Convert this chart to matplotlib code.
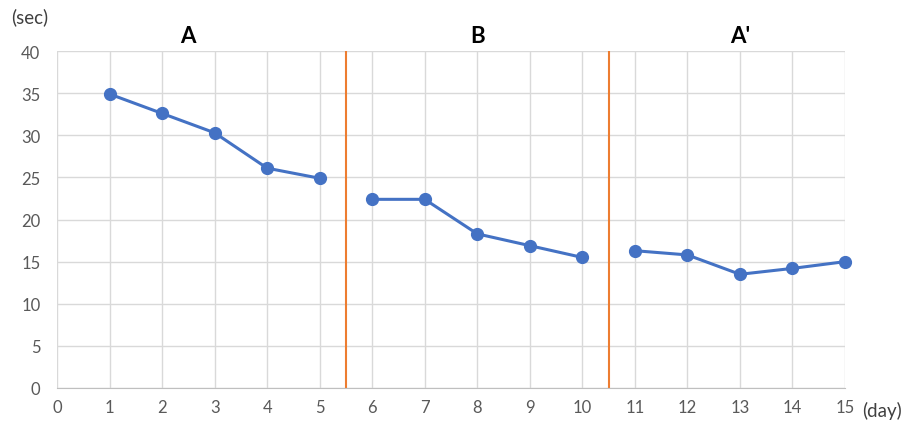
import matplotlib
matplotlib.use("Agg")
import matplotlib.pyplot as plt
import numpy as np

days = list(range(1, 16))
times = [34.9, 32.6, 30.3, 26.1, 24.9, 22.4, 22.4, 18.3, 16.9, 15.5, 16.3, 15.8, 13.5, 14.2, 15.0]
phases = ["A", "B", "A'"]
phase_bounds = [(1, 5), (6, 10), (11, 15)]
phase_label_x = [2.5, 8.0, 13.0]
phase_dividers = [5.5, 10.5]
yticks = [0, 5, 10, 15, 20, 25, 30, 35, 40]
xticks = list(range(0, 16))

plt.rcParams['font.family'] = ['Lato', 'DejaVu Sans']

fig = plt.figure(figsize=(9.08, 4.27), dpi=100)
ax = fig.add_axes([0.0628, 0.089, 0.8678, 0.789])

blue = '#4472C4'
for (s, e) in phase_bounds:
    xs = days[s - 1:e]
    ys = times[s - 1:e]
    ax.plot(xs, ys, color=blue, lw=2.2, marker='o', markersize=8.5, zorder=3, clip_on=False)

for d in phase_dividers:
    ax.axvline(d, color='#ED7D31', lw=1.5, zorder=2)

ax.set_xlim(0, 15)
ax.set_ylim(0, 40)
ax.set_xticks(xticks)
ax.set_yticks(yticks)
ax.grid(True, color='#d9d9d9', lw=1.0, zorder=0)
for side in ['top', 'right', 'left']:
    ax.spines[side].set_visible(False)
ax.spines['bottom'].set_color('#bfbfbf')
ax.tick_params(length=0, labelsize=12, labelcolor='#595959', pad=8)
ax.tick_params(axis='y', pad=12)

for name, xpos in zip(phases, phase_label_x):
    ax.text(xpos, 1.015, name, transform=ax.get_xaxis_transform(),
            ha='center', va='bottom', fontsize=16, fontweight='bold', color='black')

fig.text(30 / 908, 1 - 17 / 427, '(sec)', ha='center', va='center', fontsize=13.5, color='#404040')
fig.text(882 / 908, 1 - 411 / 427, '(day)', ha='center', va='center', fontsize=13.5, color='#404040')

fig.savefig('out.png', dpi=100)
